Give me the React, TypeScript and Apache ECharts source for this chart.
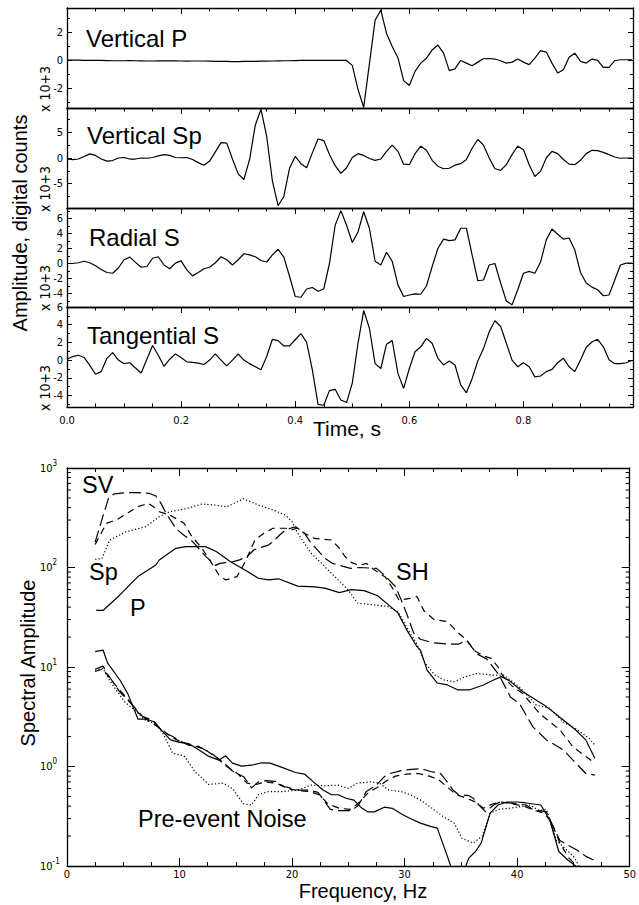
import React, { useEffect, useRef } from 'react';
import * as echarts from 'echarts';

// ---------- Seismogram data (x 10^3 digital counts), sampled every 0.01 s ----------
const sampleInterval = 0.01;
const timeMax = 0.992;

const verticalP = [
  0.02, 0.02, 0.02, 0.01, 0.01, 0.0, 0.0, -0.01, -0.02, -0.02,
  -0.02, -0.01, -0.02, -0.03, -0.04, -0.04, -0.03, -0.03, -0.02, -0.03,
  -0.04, -0.05, -0.04, -0.04, -0.04, -0.05, -0.06, -0.06, -0.07, -0.08,
  -0.08, -0.07, -0.06, -0.06, -0.05, -0.05, -0.04, -0.03, -0.02, -0.02,
  -0.01, 0.0, 0.0, 0.0, 0.0, 0.0, 0.01, 0.01, 0.01, 0.0,
  -0.35, -2.07, -3.35, -0.25, 2.87, 3.6, 1.93, 1.0, 0.2, -1.44,
  -1.79, -0.78, -0.19, 0.16, 0.75, 1.1, 0.52, -0.73, -0.6, 0.0,
  -0.19, -0.38, -0.12, 0.12, 0.14, 0.1, -0.02, -0.19, -0.12, 0.1,
  -0.12, -0.3, 0.16, 0.7, 0.6, -0.19, -0.9, -0.66, 0.23, 0.52,
  -0.07, -0.19, 0.1, 0.0, -0.5, -0.5, -0.02, 0.05, 0.05, 0.05,
];

const verticalSp = [
  -0.2, -0.3, -0.2, 0.3, 0.8, 0.5, -0.2, -0.6, -0.5, 0.0,
  0.1, -0.2, -0.2, 0.0, -0.05, 0.1, 0.4, 0.65, 0.5, 0.1,
  0.05, 0.1, -0.3, -0.9, -1.4, -0.6, 1.2, 3.0, 2.9, -0.2,
  -3.1, -4.2, -0.3, 6.4, 9.5, 4.2, -4.5, -9.3, -7.5, -2.0,
  0.3, -1.1, -1.9, 1.0, 3.7, 3.4, 0.7, -1.5, -3.0, -1.9,
  0.1, 0.85, 0.5, -0.1, -0.45, -0.2, 1.3, 2.5, 1.3, -1.2,
  -1.3, 0.85, 2.3, 1.5, -0.45, -1.6, -2.1, -2.0, -1.4, -1.1,
  -0.3, 1.9, 3.6, 2.5, 0.0, -2.1, -2.4, -1.3, 0.65, 2.3,
  1.6, -1.3, -3.6, -2.6, 0.0, 1.3, 0.85, -0.3, -1.2, -1.3,
  -0.45, 0.85, 1.5, 1.45, 1.1, 0.65, 0.2, -0.05, 0.0, 0.0,
];

const radialS = [
  0.0, 0.0, 0.1, 0.3, 0.1, -0.3, -0.8, -1.2, -1.3, -0.6,
  0.5, 0.85, 0.15, -0.5, -0.4, 0.7, 0.9, -0.2, -0.7, 0.05,
  0.35, -0.85, -1.65, -1.2, -0.7, -0.5, 0.1, 0.9, 0.5, -0.2,
  0.5, 1.3, 1.15, 0.9, 0.4, 0.2, 1.15, 1.9, 0.85, -1.7,
  -4.4, -4.5, -3.4, -3.2, -3.7, -3.4, 0.0, 5.1, 7.05, 5.1,
  2.8, 4.2, 6.9, 4.7, 0.3, -0.2, 1.5, 0.3, -2.85, -4.4,
  -4.2, -4.05, -4.1, -3.0, -0.4, 2.0, 3.25, 3.05, 3.15, 4.7,
  4.7, 1.15, -2.3, -2.2, -0.2, 0.0, -2.6, -5.0, -5.5, -3.5,
  -1.3, -1.05, -1.3, 0.2, 3.15, 4.6, 3.9, 3.25, 3.4, 1.8,
  -1.2, -2.6, -3.15, -3.5, -4.3, -4.2, -2.2, -0.2, 0.05, 0.05,
];

const tangentialS = [
  0.1, 0.4, 0.55, 0.3, -0.6, -1.6, -1.3, 0.2, 0.85, 0.0,
  -0.4, -0.3, -0.9, -1.45, 0.1, 1.65, 0.55, -0.7, 0.1, 0.7,
  0.3, -0.2, -0.25, -0.35, -0.5, 0.0, 0.7, 0.0, -0.65, 0.0,
  0.7, 0.0, -0.4, -0.75, -1.1, 0.4, 2.35, 2.2, 1.6, 1.6,
  2.3, 3.0, 2.0, -1.1, -5.0, -5.1, -3.45, -3.3, -4.5, -4.8,
  -2.6, 1.9, 5.6, 3.6, -0.4, -0.95, 1.8, 2.2, -1.5, -3.2,
  -0.95, 0.95, 1.5, 2.45, 1.9, 0.2, -0.55, -0.1, -0.55, -2.8,
  -3.7, -2.1, -0.1, 1.3, 3.2, 4.45, 3.8, 1.9, 0.0, -0.75,
  -0.3, -0.75, -1.9, -1.8, -1.3, -1.05, -0.3, 0.2, -0.75, -1.3,
  0.0, 1.45, 2.05, 2.35, 1.5, 0.05, -0.4, -0.4, -0.3, -0.05,
];

const panelTitles = ['Vertical P', 'Vertical Sp', 'Radial S', 'Tangential S'];
const panelMins = [-3.4, -9.75, -5.8, -5.3];
const panelMaxs = [3.75, 9.75, 7.4, 6.0];
const panelLabelSteps = [2, 5, 2, 2];
const timeLabelStep = 0.2;

// ---------- Spectra: [frequency Hz, spectral amplitude] ----------
const spectrumP: [number, number][] = [
  [2.6, 37], [3.2, 37], [4.7, 53], [6.3, 81], [7.9, 106], [8.2, 119], [9.67, 156], [10.55, 162],
  [12.3, 162], [13.3, 144], [14.5, 115], [15.85, 94], [17, 78], [17.9, 75], [18.8, 77], [20.5, 65],
  [22, 64], [22.9, 62], [24.2, 56], [25.25, 60], [26.4, 58.5], [27.6, 52], [28.8, 40], [29.4, 35],
  [30.2, 23.5], [31.1, 16], [31.4, 14.8], [32, 9.3], [32.9, 6.9], [33.8, 6.6], [34.7, 5.9], [35.8, 5.9],
  [37, 6.6], [37.9, 7.4], [38.6, 8.0], [39.3, 7.3], [40.5, 5.65], [41.5, 4.8], [42.6, 4.0], [44.1, 2.93],
  [45.2, 2.33], [46.1, 1.85], [46.9, 1.21],
];
const spectrumSp: [number, number][] = [
  [2.5, 121], [3.1, 123], [3.8, 189], [5.26, 229], [7, 257], [8.2, 324], [9.1, 363], [10.55, 390],
  [12, 435], [13.05, 425], [14.2, 408], [15.7, 490], [17, 425], [18.3, 379], [19.4, 337], [20, 289],
  [20.5, 221], [21.1, 175], [21.7, 139], [22.9, 102], [24.1, 75], [25, 59], [25.8, 44], [27.3, 42],
  [28.5, 40.6], [29.4, 36], [30.2, 25], [31.1, 17], [31.8, 11], [32.7, 8.3], [33.5, 7.4], [34.4, 7.1],
  [35.3, 7.9], [36.4, 8.6], [37.9, 8.3], [38.8, 8.3], [40.2, 6.3], [41.7, 4.15], [42.9, 3.85], [44.1, 2.8],
  [45.2, 2.4], [46.4, 1.92], [46.9, 1.64],
];
const spectrumSV: [number, number][] = [
  [2.5, 180], [3.2, 330], [3.7, 500], [4.2, 550], [5.3, 565], [6.3, 565], [7.3, 557], [7.9, 523],
  [8.35, 441], [8.8, 351], [9.7, 245], [10.3, 215], [11.1, 185], [11.4, 170], [12.3, 130], [13.2, 105],
  [13.6, 110], [14.7, 114], [15.4, 120], [16, 129], [16.6, 150], [17, 156], [17.9, 168], [18.3, 182],
  [18.9, 212], [19.4, 238], [20.3, 257], [21.1, 221], [21.6, 182], [22.9, 124], [23.6, 110], [25.2, 98],
  [26, 100], [27.5, 98], [28.2, 84], [29.2, 64], [29.7, 47], [30.2, 34], [30.8, 22], [31.4, 19],
  [32.5, 17.5], [33.8, 17], [34.8, 17], [35.5, 18.5], [36.4, 13.6], [37.3, 12], [38.4, 8.3], [39.4, 5.0],
  [40.2, 4.3], [41.4, 2.5], [42.6, 1.85], [44.1, 1.47], [44.95, 1.16], [46.1, 0.85], [46.9, 0.82],
];
const spectrumSH: [number, number][] = [
  [2.5, 170], [3.5, 278], [4.5, 305], [5.5, 360], [6.3, 408], [7.2, 441], [7.6, 415], [8.2, 363],
  [9.1, 339], [9.7, 310], [10.4, 278], [11.1, 204], [12, 156], [13.05, 102], [13.5, 84], [14.1, 75],
  [15.1, 81], [15.85, 115], [16.7, 189], [17.5, 221], [18.3, 248], [19.4, 248], [20, 240], [20.5, 248],
  [21.1, 221], [22, 196], [23.5, 189], [24.2, 156], [24.7, 129], [25.3, 112], [26, 105], [26.6, 110],
  [27.3, 95], [28.3, 80], [29, 60], [29.5, 47], [30.5, 49], [31.1, 51], [31.7, 37], [32.6, 30],
  [33.8, 28.6], [34.8, 21.8], [35.5, 18.7], [36.3, 14.3], [37.2, 12.7], [37.7, 12.2], [38.3, 10],
  [38.7, 8.2], [39.5, 6.5], [40.5, 5.4], [42, 3.4], [43.8, 2.33], [44.95, 1.58], [46.1, 1.26], [46.9, 1.08],
];

const noiseP: [number, number][] = [
  [2.5, 14.3], [3.2, 14.8], [3.6, 11], [4.7, 7.4], [5.4, 5.4], [6.3, 3.0], [7.0, 3.0], [7.8, 2.8],
  [8.5, 2.24], [9.2, 1.85], [10, 1.75], [10.8, 1.7], [11.7, 1.47], [12.5, 1.28], [13.5, 1.16], [14.1, 1.28],
  [14.7, 1.08], [15.5, 1.01], [16.4, 1.03], [17.3, 1.09], [18.05, 1.08], [19.1, 0.98], [20.3, 0.87],
  [21.1, 0.84], [21.9, 0.70], [22.75, 0.58], [23.5, 0.52], [24.1, 0.52], [24.8, 0.48], [25.5, 0.46],
  [26.1, 0.39], [26.7, 0.35], [27.3, 0.35], [28.2, 0.39], [28.9, 0.38], [29.8, 0.33], [30.5, 0.30],
  [31.4, 0.27], [32.3, 0.25], [32.9, 0.24], [33.3, 0.18], [33.8, 0.125], [34.3, 0.085], [35.2, 0.085],
  [35.7, 0.12], [36.3, 0.14], [36.8, 0.17], [37.6, 0.34], [38.3, 0.41], [39.1, 0.44], [40, 0.44],
  [40.8, 0.43], [42.1, 0.41], [42.9, 0.29], [43.7, 0.14], [44.5, 0.115], [45.2, 0.1], [46, 0.088],
];
const noiseSp: [number, number][] = [
  [2.5, 9.3], [3.2, 9.7], [3.5, 8.3], [4.3, 6.0], [5.1, 4.5], [6.1, 3.6], [7, 2.9], [7.9, 2.7],
  [8.6, 2.07], [9.4, 1.36], [10.4, 1.28], [11.4, 0.88], [12.6, 0.66], [13.9, 0.68], [14.7, 0.6],
  [15.7, 0.42], [16.4, 0.41], [17, 0.52], [17.9, 0.56], [19.1, 0.56], [20.5, 0.58], [21.7, 0.65],
  [22.9, 0.64], [24.1, 0.65], [25, 0.60], [25.8, 0.68], [27, 0.70], [27.75, 0.68], [28.6, 0.58],
  [29.7, 0.56], [30.5, 0.52], [31.4, 0.46], [32.3, 0.39], [33.5, 0.31], [34.4, 0.27], [35.1, 0.19],
  [36.1, 0.17], [36.9, 0.2], [37.6, 0.34], [38.4, 0.37], [40, 0.39], [41.1, 0.41], [42, 0.36],
  [42.6, 0.37], [43.5, 0.18], [44.4, 0.145], [45, 0.125], [45.5, 0.1], [46, 0.088],
];
const noiseSV: [number, number][] = [
  [2.5, 9.5], [3.2, 10.2], [3.6, 8.5], [4.7, 5.6], [5.7, 4.3], [6.7, 3.2], [7.6, 2.9], [8.5, 2.24],
  [9.4, 2.0], [10, 1.82], [10.8, 1.64], [11.7, 1.59], [12.8, 1.36], [13.8, 1.12], [14.7, 0.9],
  [15.7, 0.79], [16.4, 0.61], [17, 0.70], [17.7, 0.72], [18.5, 0.71], [19.3, 0.63], [20.5, 0.58],
  [21.5, 0.58], [22.3, 0.55], [22.8, 0.46], [23.4, 0.37], [24, 0.36], [25.3, 0.36], [25.9, 0.41],
  [26.6, 0.56], [27.5, 0.65], [28.2, 0.79], [28.7, 0.85], [29.7, 0.91], [30.3, 0.93], [31.5, 0.95],
  [32.3, 0.89], [33.2, 0.85], [33.7, 0.72], [34.3, 0.58], [34.8, 0.52], [35.7, 0.51], [36.1, 0.48],
  [36.6, 0.41], [37.2, 0.35], [37.9, 0.41], [38.5, 0.44], [39.3, 0.43], [40.8, 0.41], [41.4, 0.37],
  [42, 0.36], [42.6, 0.35], [43.2, 0.25], [43.8, 0.18], [44.4, 0.165], [45.3, 0.145], [46.1, 0.125],
  [46.8, 0.115],
];
const noiseSH: [number, number][] = [
  [2.5, 9.0], [3.2, 9.6], [3.7, 8.0], [4.6, 6.0], [5.5, 4.6], [6.4, 3.4], [7.4, 2.8], [8.3, 2.4],
  [9.2, 2.0], [10.2, 1.75], [11.2, 1.62], [12.2, 1.5], [13.2, 1.25], [14.2, 1.0], [15.2, 0.84],
  [16, 0.68], [16.8, 0.66], [17.6, 0.7], [18.6, 0.68], [19.6, 0.6], [20.6, 0.57], [21.6, 0.56],
  [22.4, 0.52], [23.2, 0.42], [24.2, 0.38], [25.2, 0.37], [26, 0.44], [26.8, 0.55], [27.6, 0.62],
  [28.4, 0.72], [29.2, 0.8], [30.2, 0.84], [31.2, 0.85], [32.2, 0.8], [33, 0.74], [33.8, 0.62],
  [34.6, 0.52], [35.5, 0.48], [36.3, 0.44], [37, 0.38], [37.8, 0.42], [38.6, 0.44], [39.6, 0.42],
  [40.6, 0.4], [41.6, 0.36], [42.4, 0.34], [43, 0.28], [43.8, 0.17], [44.6, 0.12], [45.3, 0.1],
  [46, 0.09], [46.8, 0.085],
];

const logMinorTicks = [
  0.2, 0.3, 0.4, 0.5, 0.6, 0.7, 0.8, 0.9,
  2, 3, 4, 5, 6, 7, 8, 9,
  20, 30, 40, 50, 60, 70, 80, 90,
  200, 300, 400, 500, 600, 700, 800, 900,
];

// ---------- fonts / layout ----------
const SANS = "'Liberation Sans', Arial, Helvetica, sans-serif";
const NARROW = "'Liberation Sans Narrow', 'DejaVu Sans Condensed', 'Liberation Sans', sans-serif";
const BLACK = '#000';

const panelTops = [8, 108, 208, 307];
const panelHeights = [100, 100, 99, 100];
const titleYs = [38, 135, 237.5, 335];
const titleXs = [86, 87, 89, 87];

const isMultiple = (v: number, step: number) => Math.abs(v / step - Math.round(v / step)) < 1e-6;

function buildOption() {
  const grid: any[] = [];
  const xAxis: any[] = [];
  const yAxis: any[] = [];
  const series: any[] = [];
  const axisLine = { show: true, onZero: false, lineStyle: { color: BLACK, width: 1.3 } };
  const tickStyle = { color: BLACK, width: 1 };

  const traces = [verticalP, verticalSp, radialS, tangentialS];
  traces.forEach((values, k) => {
    grid.push({ left: 67, right: 6, top: panelTops[k], height: panelHeights[k], containLabel: false });
    const isLast = k === traces.length - 1;
    const xCommon = {
      type: 'value', gridIndex: k, min: 0, max: timeMax,
      minInterval: timeLabelStep, maxInterval: timeLabelStep,
      splitLine: { show: false }, axisLine,
    };
    xAxis.push({
      ...xCommon, position: 'bottom',
      axisTick: { show: isLast, inside: true, length: 6, lineStyle: tickStyle },
      minorTick: { show: isLast, splitNumber: 4, length: 3.5, lineStyle: tickStyle },
      axisLabel: {
        show: isLast, margin: 8, color: BLACK, fontSize: 11, fontFamily: NARROW,
        formatter: (v: number) => (isMultiple(v, timeLabelStep) ? v.toFixed(1) : ''),
      },
    });
    xAxis.push({
      ...xCommon, position: 'top',
      axisTick: { show: true, inside: true, length: 6, lineStyle: tickStyle },
      minorTick: { show: true, splitNumber: 4, length: 3.5, lineStyle: tickStyle },
      axisLabel: { show: false },
    });
    const step = panelLabelSteps[k];
    const yCommon = {
      type: 'value', gridIndex: k, min: panelMins[k], max: panelMaxs[k],
      minInterval: step, maxInterval: step,
      splitLine: { show: false }, axisLine,
    };
    yAxis.push({
      ...yCommon, position: 'left',
      axisTick: { show: true, inside: true, length: 5, lineStyle: tickStyle },
      minorTick: { show: true, splitNumber: 2, length: 3, lineStyle: tickStyle },
      axisLabel: {
        show: true, margin: 4, color: BLACK, fontSize: 11, fontFamily: NARROW,
        formatter: (v: number) => (isMultiple(v, step) ? String(Math.round(v)) : ''),
      },
    });
    yAxis.push({
      ...yCommon, position: 'right',
      axisTick: { show: true, inside: true, length: 5, lineStyle: tickStyle },
      minorTick: { show: true, splitNumber: 2, length: 3, lineStyle: tickStyle },
      axisLabel: { show: false },
    });
    series.push({
      type: 'line', xAxisIndex: 2 * k, yAxisIndex: 2 * k,
      data: values.map((v, i) => [i * sampleInterval, v]),
      symbol: 'none', showSymbol: false, silent: true,
      lineStyle: { color: BLACK, width: 1.2 },
    });
  });

  // spectral chart
  const sg = traces.length;
  grid.push({ left: 67, right: 5, top: 468, height: 398, containLabel: false });
  const fCommon = {
    type: 'value', gridIndex: sg, min: 0, max: 50, minInterval: 10, maxInterval: 10,
    splitLine: { show: false }, axisLine,
  };
  xAxis.push({
    ...fCommon, position: 'bottom',
    axisTick: { show: true, inside: true, length: 8, lineStyle: tickStyle },
    minorTick: { show: true, splitNumber: 4, length: 4, lineStyle: tickStyle },
    axisLabel: { show: true, margin: 3, color: BLACK, fontSize: 11, fontFamily: NARROW },
  });
  xAxis.push({
    ...fCommon, position: 'top',
    axisTick: { show: true, inside: true, length: 8, lineStyle: tickStyle },
    minorTick: { show: true, splitNumber: 4, length: 4, lineStyle: tickStyle },
    axisLabel: { show: false },
  });
  const aCommon = {
    type: 'log', logBase: 10, gridIndex: sg, min: 0.1, max: 1000,
    splitLine: { show: false }, axisLine,
  };
  yAxis.push({
    ...aCommon, position: 'left',
    axisTick: { show: true, inside: true, length: 8, lineStyle: tickStyle },
    axisLabel: {
      show: true, margin: 27, align: 'left', color: BLACK,
      formatter: (v: number) => `{b|10}{s|${Math.round(Math.log10(v))}}`,
      rich: {
        b: { fontSize: 11, lineHeight: 18, fontFamily: NARROW, color: BLACK },
        s: { fontSize: 8, lineHeight: 8, verticalAlign: 'top', fontFamily: NARROW, color: BLACK },
      },
    },
  });
  yAxis.push({
    ...aCommon, position: 'right',
    axisTick: { show: true, inside: true, length: 8, lineStyle: tickStyle },
    axisLabel: { show: false },
  });

  const specIdx = 2 * sg;
  const specLine = (data: [number, number][], type: any) => ({
    type: 'line', xAxisIndex: specIdx, yAxisIndex: specIdx, data,
    symbol: 'none', showSymbol: false, silent: true, clip: true,
    lineStyle: { color: BLACK, width: 1.2, type },
  });
  const dotted = [1.2, 2.2];
  const longDash = [12, 5];
  const shortDash = [7, 5];
  series.push(specLine(spectrumP, 'solid'));
  series.push(specLine(spectrumSp, dotted));
  series.push(specLine(spectrumSV, longDash));
  series.push(specLine(spectrumSH, shortDash));
  series.push(specLine(noiseP, 'solid'));
  series.push(specLine(noiseSp, dotted));
  series.push(specLine(noiseSV, longDash));
  series.push(specLine(noiseSH, shortDash));

  // log-axis minor ticks (2..9 per decade) on left and right borders
  series.push({
    type: 'custom', xAxisIndex: specIdx, yAxisIndex: specIdx, silent: true, clip: false,
    data: logMinorTicks.map((v) => [0, v]),
    renderItem: (_params: any, api: any) => {
      const v = api.value(1);
      const l = api.coord([0, v]);
      const r = api.coord([50, v]);
      return {
        type: 'group',
        children: [
          { type: 'line', shape: { x1: l[0], y1: l[1], x2: l[0] + 4, y2: l[1] }, style: { stroke: BLACK, lineWidth: 1 } },
          { type: 'line', shape: { x1: r[0] - 4, y1: r[1], x2: r[0], y2: r[1] }, style: { stroke: BLACK, lineWidth: 1 } },
        ],
      };
    },
  });

  const text = (t: string, x: number, y: number, size: number, opts: any = {}) => ({
    type: 'text', x, y, rotation: opts.rotation || 0, silent: true,
    style: {
      text: t, fill: BLACK, fontSize: size, fontFamily: opts.family || SANS,
      align: opts.align || 'left', verticalAlign: 'middle',
      textAlign: opts.align || 'left', textVerticalAlign: 'middle',
    },
  });

  const graphic: any[] = [];
  panelTitles.forEach((t, k) => graphic.push(text(t, titleXs[k], titleYs[k], 24)));
  panelTops.forEach((top, k) => {
    const bottom = top + panelHeights[k];
    graphic.push(text('x 10+3', 45, bottom - 19, 14, { rotation: Math.PI / 2, align: 'center', family: NARROW }));
  });
  graphic.push(text('Amplitude, digital counts', 20, 223, 20, { rotation: Math.PI / 2, align: 'center' }));
  graphic.push(text('Time, s', 347, 428, 21, { align: 'center' }));
  graphic.push(text('Spectral Amplitude', 28, 663, 20, { rotation: Math.PI / 2, align: 'center' }));
  graphic.push(text('Frequency, Hz', 363, 891, 20, { align: 'center' }));
  graphic.push(text('SV', 82, 485, 23.5));
  graphic.push(text('Sp', 89, 571.5, 23.5));
  graphic.push(text('P', 130, 608, 23.5));
  graphic.push(text('SH', 396, 571.5, 23.5));
  graphic.push(text('Pre-event Noise', 138, 818.5, 23.5));

  return {
    animation: false,
    backgroundColor: '#fff',
    textStyle: { fontFamily: SANS, color: BLACK },
    grid, xAxis, yAxis, series, graphic,
  };
}

export default function App() {
  const ref = useRef<HTMLDivElement>(null);
  useEffect(() => {
    if (!ref.current) return;
    const chart = echarts.init(ref.current, undefined, { renderer: 'svg' });
    chart.setOption(buildOption() as any);
    return () => chart.dispose();
  }, []);
  return (
    <div
      ref={ref}
      style={{ position: 'absolute', left: 0, top: 0, width: 639, height: 905, background: '#fff' }}
    />
  );
}
